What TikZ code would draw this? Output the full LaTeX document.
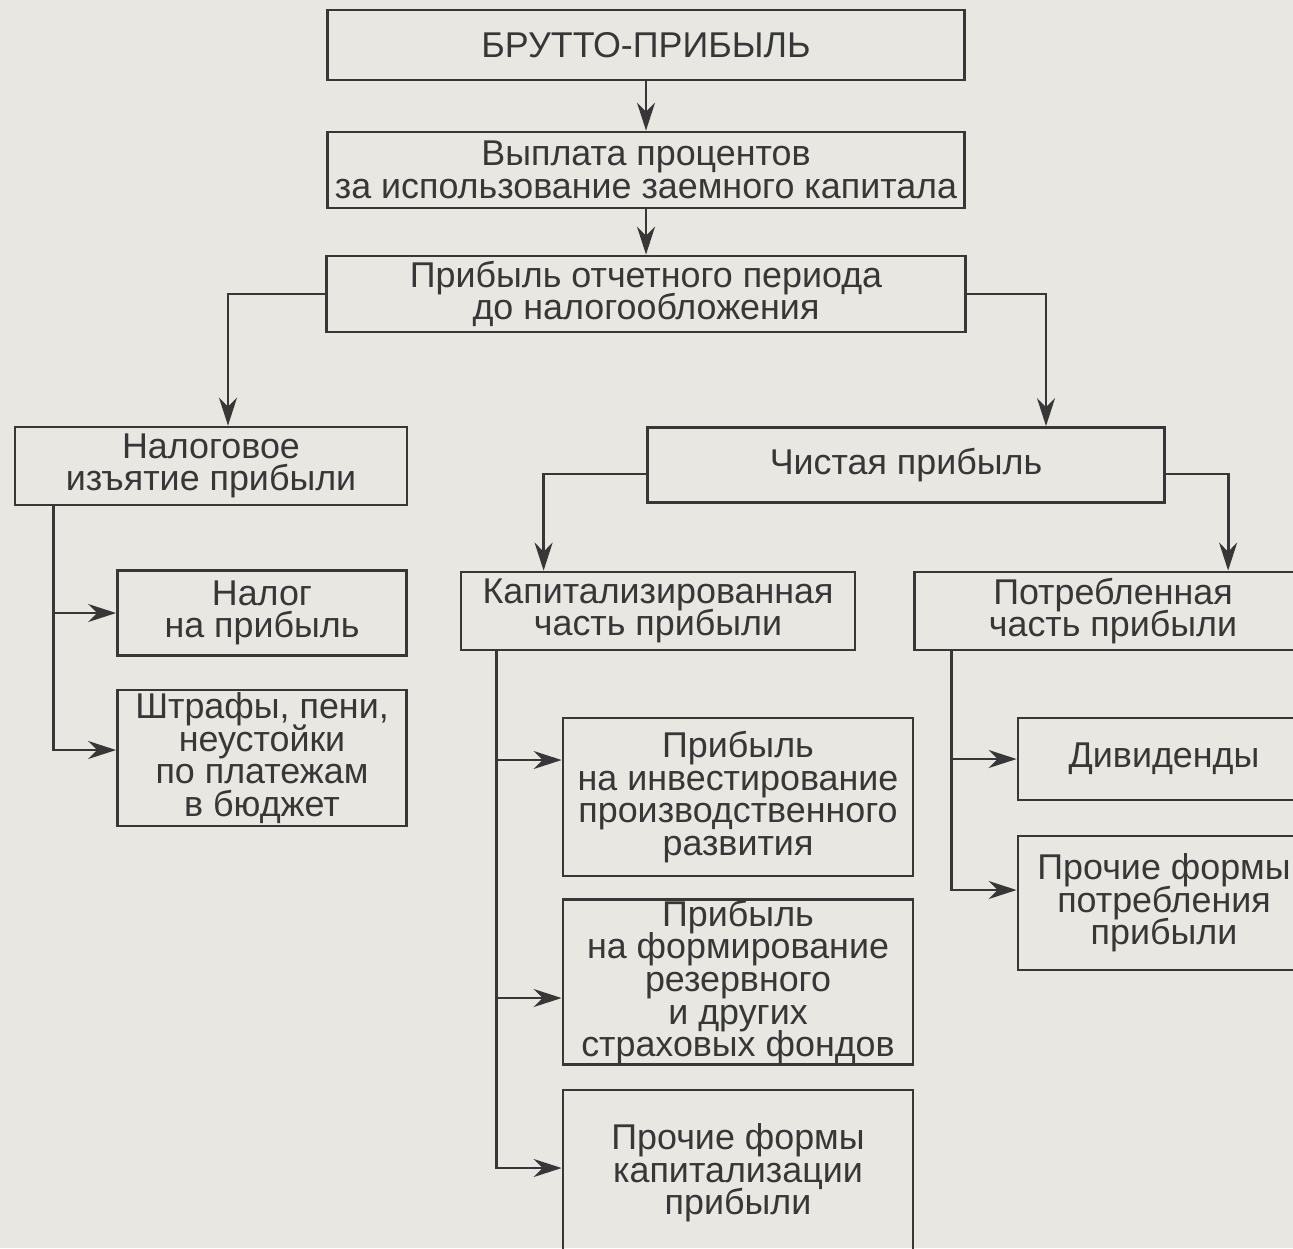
\documentclass[tikz,border=0pt]{standalone}
\usepackage{fontspec}
\setmainfont{Liberation Sans}
\usetikzlibrary{arrows.meta}
\definecolor{ink}{RGB}{55,55,55}
\definecolor{paper}{RGB}{233,231,226}
\newcommand\boxfont{\fontsize{10.2}{9.3}\selectfont\lineskiplimit=-20pt\relax}
\tikzset{
  box/.style={
    draw=ink, line width=0.8pt, text=ink, align=center,
    font=\boxfont, inner sep=0pt
  },
  link/.style={
    draw=ink, line width=0.8pt,
    -{Stealth[length=2.8mm,width=1.8mm]}
  }
}

\begin{document}
\begin{tikzpicture}[x=0.1mm, y=-0.1mm]
    \useasboundingbox (0,0) rectangle (1293,1248);
  \fill[paper] (0,0) rectangle (1293,1248);

  % main chain
  \node[box, minimum width=6.37cm, minimum height=7mm] (brutto) at (646,45) {БРУТТО-ПРИБЫЛЬ};
  \node[box, minimum width=6.37cm, minimum height=7.6mm] (vyplata) at (646,170)
    {Выплата процентов\\за использование заемного капитала};
  \node[box, minimum width=6.39cm, minimum height=7.6mm] (doNaloga) at (646,294)
    {Прибыль отчетного периода\\до налогообложения};

  % second level
  \node[box, minimum width=3.92cm, minimum height=7.8mm] (izyatie) at (211,466)
    {Налоговое\\изъятие прибыли};
  \node[box, minimum width=5.17cm, minimum height=7.5mm] (chistaya) at (906,465) {Чистая прибыль};

  % tax branch
  \node[box, minimum width=2.89cm, minimum height=8.5mm] (nalog) at (262,613)
    {Налог\\на прибыль};
  \node[box, minimum width=2.89cm, minimum height=13.6mm] (shtrafy) at (262,758)
    {Штрафы, пени,\\неустойки\\по платежам\\в бюджет};

  % net profit branch
  \node[box, minimum width=3.94cm, minimum height=7.8mm] (kapital) at (658,611)
    {Капитализированная\\часть прибыли};
  \node[box, minimum width=3.97cm, minimum height=7.8mm] (potreb) at (1113,611)
    {Потребленная\\часть прибыли};

  \node[box, minimum width=3.5cm, minimum height=15.8mm] (invest) at (738,797)
    {Прибыль\\на инвестирование\\производственного\\развития};
  \node[box, minimum width=3.5cm, minimum height=16mm] (rezerv) at (738,982)
    {Прибыль\\на формирование\\резервного\\и других\\страховых фондов};
  \node[box, minimum width=3.5cm, minimum height=16.6mm] (prochKap) at (738,1173)
    {Прочие формы\\капитализации\\прибыли};

  \node[box, minimum width=2.92cm, minimum height=8.2mm] (divid) at (1164,759) {Дивиденды};
  \node[box, minimum width=2.92cm, minimum height=13.4mm] (prochPotr) at (1164,903)
    {Прочие формы\\потребления\\прибыли};

  % connectors
  \draw[link] (brutto) -- (vyplata);
  \draw[link] (vyplata) -- (doNaloga);
  \draw[link] (doNaloga.west) -| ([xshift=1.7mm]izyatie.north);
  \draw[link] (doNaloga.east) -| ([xshift=14mm]chistaya.north);

  \draw[link] ([xshift=4mm]izyatie.south west) |- (nalog.west);
  \draw[link] ([xshift=4mm]izyatie.south west) |- ([yshift=0.8mm]shtrafy.west);

  \draw[link] ([yshift=-0.9mm]chistaya.west) -| ([xshift=8.4mm]kapital.north west);
  \draw[link] ([yshift=-0.9mm]chistaya.east) -| ([xshift=31.5mm]potreb.north west);

  \draw[link] ([xshift=3.7mm]kapital.south west) |- ([yshift=3.7mm]invest.west);
  \draw[link] ([xshift=3.7mm]kapital.south west) |- ([yshift=-1.6mm]rezerv.west);
  \draw[link] ([xshift=3.7mm]kapital.south west) |- ([yshift=0.5mm]prochKap.west);

  \draw[link] ([xshift=3.8mm]potreb.south west) |- (divid.west);
  \draw[link] ([xshift=3.8mm]potreb.south west) |- ([yshift=1.3mm]prochPotr.west);

\end{tikzpicture}
\end{document}
